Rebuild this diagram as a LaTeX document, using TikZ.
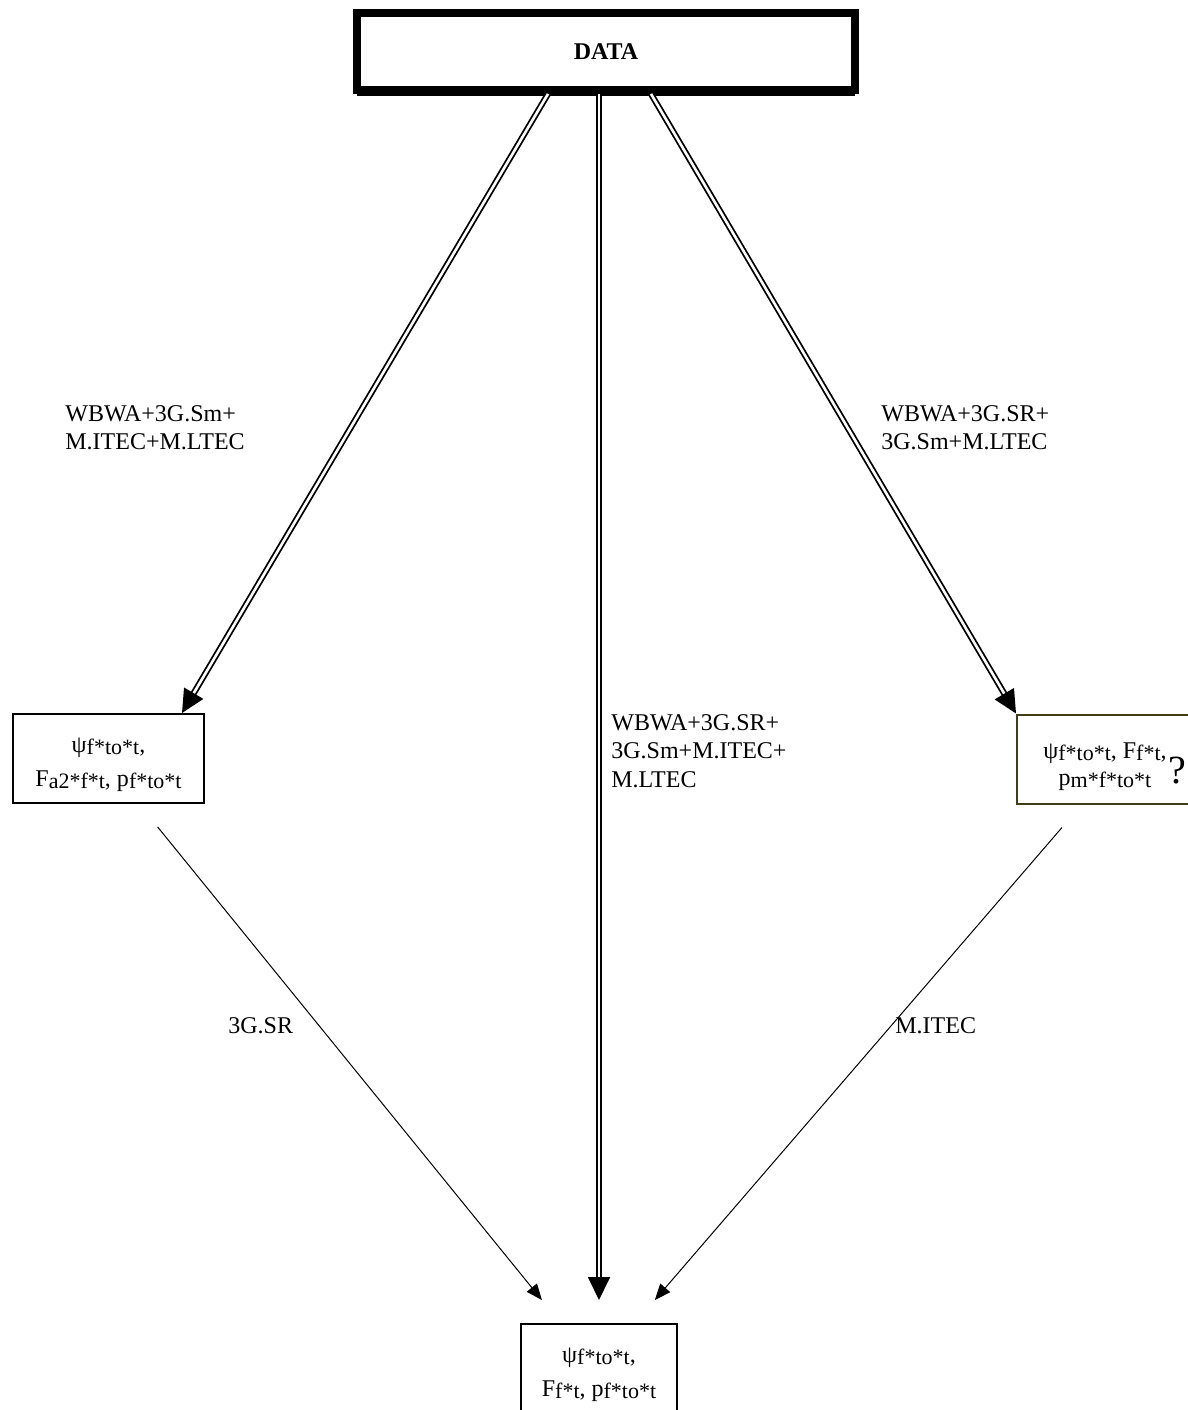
\documentclass[tikz,border=0pt,12pt]{standalone}
\usepackage{fontspec}
\setmainfont{Liberation Serif}
\usetikzlibrary{arrows.meta}
\usetikzlibrary{shadows}
\definecolor{boxolive}{RGB}{64,62,22}
\newcommand{\subidx}[1]{\raisebox{-1pt}{\fontsize{11}{11}\selectfont #1}}
\newcommand{\topstrut}[1]{\rule{0pt}{#1}}

\begin{document}
\begin{tikzpicture}[x=0.5pt,y=-0.5pt,
	box/.style={draw, line width=1pt, fill=white, inner sep=0pt, align=center, minimum height=44.5pt, font=\fontsize{12}{17}\selectfont},
	lbl/.style={inner sep=0pt, anchor=north west, align=left, font=\fontsize{12}{14.2}\selectfont},
	dbl/.style={draw, double, line width=0.9pt, double distance=1.3pt, -{Triangle[length=11.5pt,width=11pt]}},
	thinarr/.style={draw, line width=0.5pt, -{Triangle[length=8pt,width=6.5pt]}}]
	\useasboundingbox (0,0) rectangle (1188,1410);
	\clip (0,0) rectangle (1188,1410);
	\node[draw, line width=4pt, fill=white, minimum width=248.75pt, minimum height=38.5pt, inner sep=0pt,
		drop shadow={shadow xshift=0pt, shadow yshift=-3pt, fill=black, opacity=1}, font=\bfseries] (data) at (606,51.4) {DATA};
	\node[box, minimum width=95.5pt] (lbox) at (108.5,758.5) {\topstrut{14pt}ψ\subidx{f*to*t},\\F\subidx{a2*f*t}, p\subidx{f*to*t}};
	\node[box, draw=boxolive, minimum width=88pt, font=\fontsize{12}{13.5}\selectfont] (rbox) at (1105,759) {\topstrut{16pt}ψ\subidx{f*to*t}, F\subidx{f*t},\\p\subidx{m*f*to*t}};
	\node[inner sep=0pt, anchor=base, font=\fontsize{20}{20}\selectfont] (qmark) at (1177,783) {?};
	\node[box, minimum width=78pt] (bbox) at (599,1368.5) {\topstrut{14pt}ψ\subidx{f*to*t},\\F\subidx{f*t}, p\subidx{f*to*t}};
	\node[lbl] (lblL) at (65,405) {WBWA+3G.Sm+\\M.ITEC+M.LTEC};
	\node[lbl] (lblR) at (881,405) {WBWA+3G.SR+\\3G.Sm+M.LTEC};
	\node[lbl] (lblC) at (611,714) {WBWA+3G.SR+\\3G.Sm+M.ITEC+\\M.LTEC};
	\node[lbl] (lblSR) at (228,1017) {3G.SR};
	\node[lbl] (lblIT) at (895,1017) {M.ITEC};
	\path	([xshift=-29pt]data.south) edge [dbl] ([xshift=36.75pt]lbox.north)
		(bbox.north |- data.south) edge [dbl, shorten >=11.5pt] (bbox.north)
		([xshift=22.5pt]data.south) edge [dbl] (rbox.north west);
	\path	([xshift=15.25pt]lbox.south) edge [thinarr, shorten <=14.8pt, shorten >=14.8pt] ([xshift=-19.2pt]bbox.north)
		([xshift=-11.6pt]rbox.south) edge [thinarr, shorten <=15.2pt, shorten >=15.2pt] ([xshift=18pt]bbox.north);
\end{tikzpicture}
\end{document}
